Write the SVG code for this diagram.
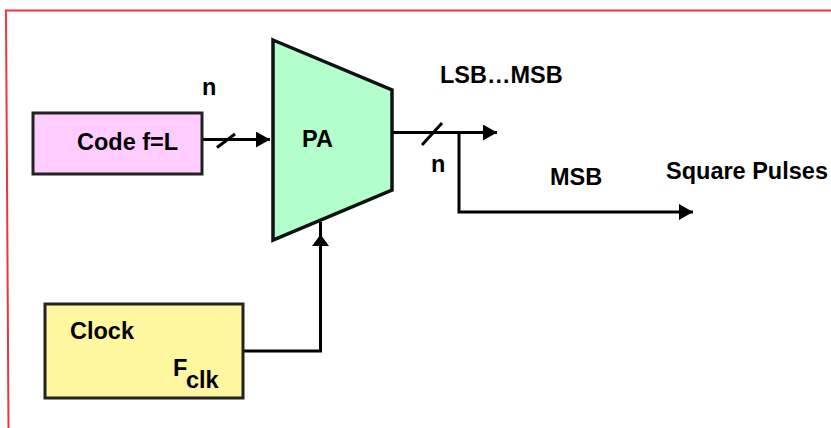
<svg xmlns="http://www.w3.org/2000/svg" width="831" height="428" viewBox="0 0 831 428">
<style>
.t{font-family:"Liberation Sans",Arial,sans-serif;font-weight:bold;font-size:23.5px;fill:#000}
.ln{stroke:#000;stroke-width:3;fill:none}
.box{stroke:#222;stroke-width:3}
</style>
<defs>
<marker id="ah" markerWidth="14" markerHeight="16" refX="14" refY="8" orient="auto" markerUnits="userSpaceOnUse">
<path d="M0,0 L14,8 L0,16 Z" fill="#000"/>
</marker>
</defs>
<rect width="831" height="428" fill="#fff"/>
<path d="M831,10.5 H6 L8.5,428" stroke="#ee3344" stroke-width="2" fill="none"/>
<g id="connectors">
<line class="ln" x1="202" y1="139.5" x2="270" y2="139.5" marker-end="url(#ah)"/>
<line class="ln" x1="217" y1="147.5" x2="235" y2="134" stroke-width="2"/>
<line class="ln" x1="392" y1="132.5" x2="497" y2="132.5" marker-end="url(#ah)"/>
<line class="ln" x1="422" y1="145" x2="442" y2="123" stroke-width="2"/>
<polyline class="ln" points="459,132.5 459,212 693,212" marker-end="url(#ah)"/>
<polyline class="ln" points="244,351 320.5,351 320.5,222"/>
<path d="M320.5,234.5 L329,246 L312,246 Z" fill="#000"/>
</g>
<g id="code">
<rect class="box" x="33" y="113" width="169" height="61" fill="#ffccff"/>
<text class="t" x="77" y="150">Code f=L</text>
</g>
<g id="pa">
<polygon points="273,40 392,90 392,190 273,240" fill="#b3ffcc" stroke="#111" stroke-width="3.5" stroke-linejoin="miter"/>
<text class="t" x="302" y="147">PA</text>
</g>
<g id="clock">
<rect class="box" x="45" y="304" width="198" height="94" fill="#fff6a0"/>
<text class="t" x="70" y="339">Clock</text>
<text class="t" x="173" y="376">F</text>
<text class="t" x="186" y="388" font-size="22">clk</text>
</g>
<g id="labels">
<text class="t" x="202" y="95">n</text>
<text class="t" x="440" y="83">LSB…MSB</text>
<text class="t" x="431" y="172">n</text>
<text class="t" x="550" y="185">MSB</text>
<text class="t" x="666" y="179">Square Pulses</text>
</g>
</svg>
